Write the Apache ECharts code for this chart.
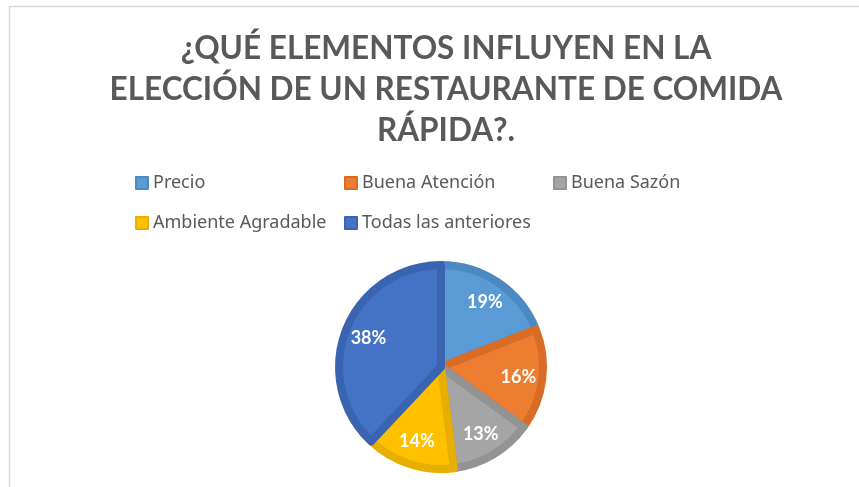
<!DOCTYPE html>
<html lang="es">
<head>
    <meta charset="UTF-8">
    <title>Elementos restaurante</title>
    <script src="https://cdn.jsdelivr.net/npm/echarts@6/dist/echarts.min.js"></script>
    <style>
        body { margin: 0; background: #fff; }
        #chart { width: 859px; height: 487px; }
    </style>
</head>
<body>
    <div id="chart"></div>
    <script>
        // datos del gráfico
        var categorias = ['Precio', 'Buena Atención', 'Buena Sazón', 'Ambiente Agradable', 'Todas las anteriores'];
        var porcentajes = [19, 16, 13, 14, 38];
        var colores = ['#5B9BD5', '#ED7D31', '#A5A5A5', '#FFC000', '#4472C4'];
        var bordes = ['#4C89C2', '#D86C24', '#939393', '#E8AE00', '#3A63B0'];
        var titulo = '¿QUÉ ELEMENTOS INFLUYEN EN LA\nELECCIÓN DE UN RESTAURANTE DE COMIDA\nRÁPIDA?.';

        // posiciones de la leyenda (rejilla de columnas)
        var legendPos = [[135, 174], [344, 174], [553, 174], [135, 214], [344, 214]];

        var chart = echarts.init(document.getElementById('chart'));

        var datos = categorias.map(function (c, i) {
            return {
                name: c,
                value: porcentajes[i],
                itemStyle: { color: colores[i], borderColor: bordes[i] }
            };
        });

        var leyendas = categorias.map(function (c, i) {
            return {
                data: [c],
                left: legendPos[i][0],
                top: legendPos[i][1],
                padding: 0,
                itemWidth: 12,
                itemHeight: 12,
                icon: 'rect',
                selectedMode: false,
                textStyle: { color: '#595959', fontSize: 18, fontFamily: 'Noto Sans' }
            };
        });

        var option = {
            backgroundColor: '#fff',
            animation: false,
            title: {
                text: titulo,
                left: 441,
                textAlign: 'center',
                top: 23,
                textStyle: {
                    color: '#595959',
                    fontSize: 31.5,
                    fontWeight: 'bold',
                    fontFamily: 'Lato',
                    lineHeight: 41
                }
            },
            legend: leyendas,
            graphic: [{
                type: 'rect',
                shape: { x: 9.5, y: 6.5, width: 900, height: 600 },
                style: { fill: 'none', stroke: '#d9d9d9', lineWidth: 1.5 },
                silent: true
            }],
            series: [{
                type: 'pie',
                center: [441, 367],
                radius: 102,
                startAngle: 90,
                clockwise: true,
                label: { show: false },
                labelLine: { show: false },
                itemStyle: { borderWidth: 8 },
                emphasis: { disabled: true },
                data: datos
            }, {
                // serie transparente para colocar las etiquetas
                type: 'pie',
                center: [441, 367],
                radius: [44, 106],
                startAngle: 90,
                clockwise: true,
                silent: true,
                itemStyle: { color: 'rgba(0,0,0,0)' },
                label: {
                    show: true,
                    position: 'inside',
                    formatter: '{c}%',
                    color: '#fff',
                    fontSize: 18,
                    fontWeight: 'bold',
                    fontFamily: 'Lato'
                },
                labelLine: { show: false },
                emphasis: { disabled: true },
                data: categorias.map(function (c, i) { return { name: c + ' ', value: porcentajes[i] }; })
            }]
        };

        chart.setOption(option);
    </script>
</body>
</html>
